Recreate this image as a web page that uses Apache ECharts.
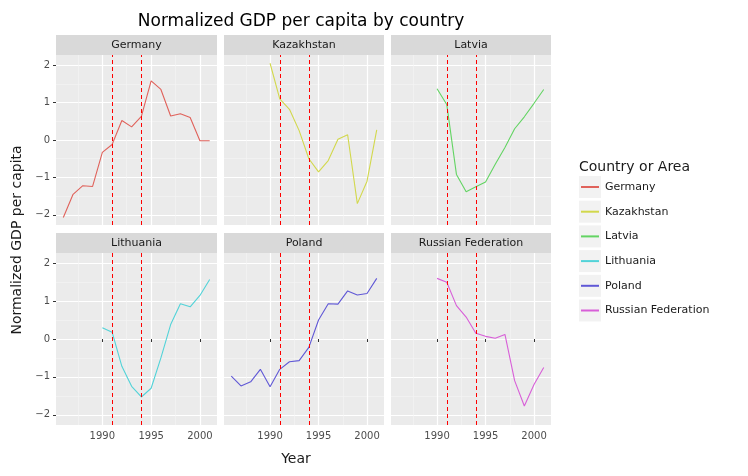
<!DOCTYPE html>
<html>
<head>
<meta charset="utf-8">
<script src="https://cdn.jsdelivr.net/npm/echarts@6/dist/echarts.min.js"></script>
<style>
  html,body{margin:0;padding:0;background:#fff;}
  #chart{width:748px;height:476px;}
</style>
</head>
<body>
<div id="chart"></div>
<script>
var countries = ['Germany', 'Kazakhstan', 'Latvia', 'Lithuania', 'Poland', 'Russian Federation'];
var colors = ['#E0625B', '#D2D84C', '#63D463', '#52D3D8', '#6058D6', '#D85FD8'];
var years86 = [1986,1987,1988,1989,1990,1991,1992,1993,1994,1995,1996,1997,1998,1999,2000,2001];
var years90 = [1990,1991,1992,1993,1994,1995,1996,1997,1998,1999,2000,2001];
var germany    = [-2.07,-1.45,-1.22,-1.24,-0.33,-0.12,0.52,0.35,0.63,1.58,1.35,0.64,0.70,0.60,-0.02,-0.02];
var kazakhstan = [2.05,1.1,0.82,0.25,-0.5,-0.85,-0.55,0.02,0.14,-1.7,-1.1,0.27];
var latvia     = [1.37,0.95,-0.92,-1.38,-1.25,-1.12,-0.65,-0.2,0.3,0.62,0.98,1.35];
var lithuania  = [0.3,0.18,-0.72,-1.25,-1.53,-1.3,-0.5,0.38,0.93,0.85,1.15,1.57];
var poland     = [-0.98,-1.24,-1.13,-0.8,-1.26,-0.8,-0.6,-0.57,-0.22,0.5,0.93,0.92,1.27,1.16,1.2,1.6];
var russia     = [1.6,1.5,0.88,0.58,0.15,0.07,0.02,0.12,-1.1,-1.77,-1.2,-0.75];
var seriesYears = [years86, years90, years90, years90, years86, years90];
var seriesVals = [germany, kazakhstan, latvia, lithuania, poland, russia];
var eventYears = [1991, 1994];
var xMajor = [1990, 1995, 2000];
var xMinor = [1987.5, 1992.5, 1997.5];
var yMajor = [-2, -1, 0, 1, 2];
var yMinor = [-1.5, -0.5, 0.5, 1.5];

var panelX = [[56, 217], [224, 384], [391, 551]];
var panelY = [[55, 225], [253, 425]];
var grids = [], xAxes = [], yAxes = [], series = [], graphics = [];
var txt = '#4D4D4D';

for (var i = 0; i < 6; i++) {
  var c = i % 3, r = Math.floor(i / 3);
  var px = panelX[c], py = panelY[r];
  grids.push({left: px[0], top: py[0], width: px[1] - px[0], height: py[1] - py[0],
    show: true, backgroundColor: '#EBEBEB', borderWidth: 0});
  // strip
  graphics.push({type: 'rect', shape: {x: px[0], y: py[0] - 20, width: px[1] - px[0], height: 20},
    style: {fill: '#D9D9D9'}});
  graphics.push({type: 'text', x: (px[0] + px[1]) / 2, y: py[0] - 10,
    style: {text: countries[i], fill: '#1A1A1A', font: '11px DejaVu Sans', align: 'center', verticalAlign: 'middle'}});
  var xBase = {type: 'value', gridIndex: i, min: 1985.25, max: 2001.75, position: 'bottom',
    axisLine: {show: false}, splitNumber: 3};
  // minor x
  xAxes.push(Object.assign({}, xBase, {
    axisLabel: {show: false}, axisTick: {show: false, customValues: xMinor},
    splitLine: {show: true, lineStyle: {color: '#F5F5F5', width: 0.6}}}));
  // major x
  xAxes.push(Object.assign({}, xBase, {
    axisLabel: {show: r === 1, customValues: xMajor, color: txt, fontSize: 10, fontFamily: 'DejaVu Sans', margin: 6,
      formatter: function (v) { return String(v); }},
    axisTick: {show: r === 1, customValues: xMajor, length: 3, lineStyle: {color: '#333'}},
    splitLine: {show: true, lineStyle: {color: '#FFFFFF', width: 1.2}}}));
  var yBase = {type: 'value', gridIndex: i, min: -2.27, max: 2.27, position: 'left', axisLine: {show: false}};
  yAxes.push(Object.assign({}, yBase, {
    axisLabel: {show: false}, axisTick: {show: false, customValues: yMinor},
    splitLine: {show: true, lineStyle: {color: '#F5F5F5', width: 0.6}}}));
  yAxes.push(Object.assign({}, yBase, {
    axisLabel: {show: c === 0, customValues: yMajor, color: txt, fontSize: 10, fontFamily: 'DejaVu Sans', margin: 6,
      formatter: function (v) { return v < 0 ? '\u2212' + (-v) : String(v); }},
    axisTick: {show: c === 0, customValues: yMajor, length: 3, lineStyle: {color: '#333'}},
    splitLine: {show: true, lineStyle: {color: '#FFFFFF', width: 1.2}}}));
  var data = seriesYears[i].map(function (y, k) { return [y, seriesVals[i][k]]; });
  series.push({type: 'line', name: countries[i], xAxisIndex: 2 * i + 1, yAxisIndex: 2 * i + 1,
    data: data, showSymbol: false, symbol: 'none', lineStyle: {color: colors[i], width: 1.1},
    itemStyle: {color: colors[i]}, animation: false,
    markLine: {silent: true, symbol: 'none', label: {show: false},
      lineStyle: {color: '#FF0000', type: [4, 3], width: 1},
      data: eventYears.map(function (y) { return {xAxis: y}; })}});
}

// legend
graphics.push({type: 'text', x: 579, y: 167, style: {text: 'Country or Area', fill: '#1A1A1A',
  font: '14px DejaVu Sans', verticalAlign: 'middle'}});
for (var j = 0; j < 6; j++) {
  var ly = 176 + j * 24.7;
  graphics.push({type: 'rect', shape: {x: 579, y: ly, width: 22, height: 22}, style: {fill: '#F2F2F2'}});
  graphics.push({type: 'line', shape: {x1: 581, y1: ly + 11, x2: 599, y2: ly + 11},
    style: {stroke: colors[j], lineWidth: 2}});
  graphics.push({type: 'text', x: 605, y: ly + 11, style: {text: countries[j], fill: '#1A1A1A',
    font: '11px DejaVu Sans', verticalAlign: 'middle'}});
}
graphics.push({type: 'text', x: 296, y: 459, style: {text: 'Year', fill: '#1A1A1A',
  font: '14px DejaVu Sans', align: 'center', verticalAlign: 'middle'}});
graphics.push({type: 'text', x: 17, y: 240, rotation: Math.PI / 2, style: {text: 'Normalized GDP per capita',
  fill: '#1A1A1A', font: '14px DejaVu Sans', align: 'center', verticalAlign: 'middle'}});

var chart = echarts.init(document.getElementById('chart'));
chart.setOption({
  animation: false,
  title: {text: 'Normalized GDP per capita by country', left: 296, top: 8, textAlign: 'center',
    textStyle: {fontSize: 17, fontWeight: 'normal', color: '#000', fontFamily: 'DejaVu Sans'}},
  grid: grids, xAxis: xAxes, yAxis: yAxes, series: series, graphic: graphics
});
</script>
</body>
</html>
